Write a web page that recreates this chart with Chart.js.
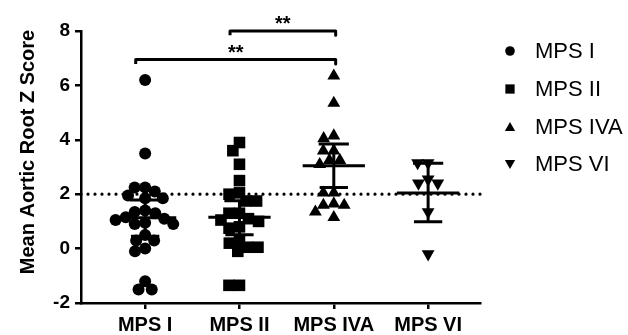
<!DOCTYPE html>
<html>
<head>
<meta charset="utf-8">
<script src="https://cdn.jsdelivr.net/npm/chart.js@4"></script>
<style>
  html, body { margin: 0; padding: 0; background: #fff; }
  #wrap { width: 628px; height: 335px; }
</style>
</head>
<body>
<div id="wrap"><canvas id="chart" width="628" height="335"></canvas></div>
<script>
// values
const groups = ['MPS I', 'MPS II', 'MPS IVA', 'MPS VI'];
const mps1 = [6.2, 3.5, 2.25, 2.25, 2.1, 1.95, 1.85, 1.85, 1.4, 1.35, 1.3, 1.15, 1.05, 0.95, 0.9, 0.9, 1.1, 0.5, 0.3, 0.3, 0.0, -0.1, -1.2, -1.5, -1.5];
const mps2 = [3.9, 3.6, 3.1, 2.5, 2.05, 2.0, 1.75, 1.75, 1.3, 1.3, 1.05, 1.0, 1.1, 0.75, 0.8, 0.2, 0.05, -0.1, 0.05, 0.3, -1.35, -1.35];
const mps4a = [6.35, 5.35, 4.15, 4.05, 3.6, 3.6, 3.25, 3.25, 3.1, 2.05, 2.05, 1.65, 1.6, 1.6, 1.35, 1.15];
const mps6 = [3.15, 3.15, 2.55, 2.4, 2.4, 1.35, -0.2];
const means = [1.13, 1.15, 3.05, 2.04];
const ciLow = [0.45, 0.51, 2.25, 0.99];
const ciHigh = [1.79, 1.76, 3.85, 3.14];
const yTicks = [-2, 0, 2, 4, 6, 8];
const refLine = 2;
const comparisons = [[1, 3], [2, 3]];   // group numbers
const compLevels = [6.95, 8.0];
const compLabels = ['**', '**'];

const FONT = '"Liberation Sans", Arial, sans-serif';
const PX_X = 94.3, PX_Y = 27.2;  // approx pixels per unit, used for dot spreading only

// spread the dots sideways so they don't pile up (simple beeswarm)
function swarm(values, g) {
  const d = 10.5;
  const placed = [];
  const out = new Array(values.length);
  const order = values.map((v, i) => i).sort((a, b) => values[b] - values[a]);
  for (const i of order) {
    const py = values[i] * PX_Y;
    const cands = [0];
    for (const p of placed) {
      const dy = py - p.y;
      if (Math.abs(dy) < d) {
        const dx = Math.sqrt(d * d - dy * dy);
        cands.push(p.x + dx, p.x - dx);
      }
    }
    cands.sort((a, b) => Math.abs(a) - Math.abs(b) || a - b);
    const x = cands.find(c => placed.every(p => (p.x - c) ** 2 + (p.y - py) ** 2 >= d * d - 0.01));
    placed.push({ x: x, y: py });
    out[i] = { x: g + x / PX_X, y: values[i] };
  }
  return out;
}

// mean line, CI whisker and caps as one broken line per group
function errorBars() {
  const pts = [];
  means.forEach((m, i) => {
    const g = i + 1;
    pts.push({ x: g - 0.33, y: m }, { x: g + 0.33, y: m }, { x: g, y: null });
    pts.push({ x: g, y: ciLow[i] }, { x: g, y: ciHigh[i] }, { x: g, y: null });
    pts.push({ x: g - 0.16, y: ciHigh[i] }, { x: g + 0.16, y: ciHigh[i] }, { x: g, y: null });
    pts.push({ x: g - 0.15, y: ciLow[i] }, { x: g + 0.15, y: ciLow[i] }, { x: g, y: null });
  });
  return pts;
}

function brackets() {
  const pts = [];
  comparisons.forEach(([a, b], i) => {
    const lv = compLevels[i];
    const l = a - 0.1, r = b + 0.02;
    pts.push({ x: l, y: lv - 0.16 }, { x: l, y: lv }, { x: r, y: lv }, { x: r, y: lv - 0.16 }, { x: r, y: null });
  });
  return pts;
}

const seriesStyle = [
  { data: mps1, style: 'circle', radius: 6, rotation: 0 },
  { data: mps2, style: 'rect', radius: 8.2, rotation: 0 },
  { data: mps4a, style: 'triangle', radius: 7.4, rotation: 0 },
  { data: mps6, style: 'triangle', radius: 7.4, rotation: 180 }
];

const datasets = seriesStyle.map((s, i) => ({
  type: 'scatter',
  label: groups[i],
  data: swarm(s.data, i + 1),
  pointStyle: s.style,
  pointRadius: s.radius,
  rotation: s.rotation,
  backgroundColor: '#000',
  borderColor: '#000',
  borderWidth: 0,
  order: 2,
  clip: false
}));

datasets.push({
  type: 'line', label: 'ci', data: errorBars(),
  borderColor: '#000', borderWidth: 3, pointRadius: 0, spanGaps: false,
  order: 0, clip: false
});
datasets.push({
  type: 'line', label: 'ref', data: [{ x: 0.32, y: refLine }, { x: 4.58, y: refLine }],
  borderColor: '#000', borderWidth: 3.2, borderDash: [0, 7], borderCapStyle: 'round',
  pointRadius: 0, order: 3, clip: false
});
datasets.push({
  type: 'line', label: 'sig', data: brackets(),
  borderColor: '#000', borderWidth: 3, borderJoinStyle: 'round', pointRadius: 0,
  spanGaps: false, order: 1, clip: false
});

const extras = {
  id: 'extras',
  afterDraw(chart) {
    const ctx = chart.ctx;
    const xs = chart.scales.x, ys = chart.scales.y;
    ctx.save();
    // y title
    ctx.fillStyle = '#000';
    ctx.font = 'bold 20px ' + FONT;
    ctx.textAlign = 'center';
    ctx.textBaseline = 'middle';
    ctx.translate(28, 152);
    ctx.rotate(-Math.PI / 2);
    ctx.fillText('Mean Aortic Root Z Score', 0, 0);
    ctx.restore();

    // significance stars
    ctx.save();
    ctx.fillStyle = '#000';
    ctx.font = 'bold 20px ' + FONT;
    ctx.textAlign = 'center';
    ctx.textBaseline = 'alphabetic';
    comparisons.forEach(([a, b], i) => {
      const l = a - 0.1, r = b + 0.02;
      ctx.fillText(compLabels[i], xs.getPixelForValue((l + r) / 2), ys.getPixelForValue(compLevels[i]) - 1);
    });
    ctx.restore();

    // legend
    ctx.save();
    ctx.font = '22px ' + FONT;
    ctx.textAlign = 'left';
    ctx.textBaseline = 'middle';
    const rows = [51, 89, 127, 164];
    seriesStyle.forEach((s, i) => {
      ctx.fillStyle = '#000';
      ctx.strokeStyle = '#000';
      ctx.lineWidth = 0;
      Chart.helpers.drawPoint(ctx, {
        pointStyle: s.style, radius: s.radius * 0.8, rotation: s.rotation, borderWidth: 0
      }, 510, rows[i] + (s.style === 'triangle' ? (s.rotation ? -1 : 1) : 0));
      ctx.fillStyle = '#000';
      ctx.fillText(groups[i], 535, rows[i] + 1);
    });
    ctx.restore();
  }
};

new Chart(document.getElementById('chart'), {
  data: { datasets: datasets },
  options: {
    responsive: false,
    animation: false,
    events: [],
    layout: { padding: { top: 31, right: 148, left: 0, bottom: 0 } },
    plugins: { legend: { display: false }, tooltip: { enabled: false } },
    scales: {
      x: {
        type: 'linear',
        min: 0.32,
        max: 4.55,
        afterBuildTicks(scale) { scale.ticks = groups.map((g, i) => ({ value: i + 1 })); },
        afterFit(scale) { scale.height = 32; },
        ticks: {
          color: '#000',
          font: { family: FONT, size: 20, weight: 'bold' },
          padding: 4,
          autoSkip: false,
          maxRotation: 0,
          callback: (v) => groups[v - 1]
        },
        grid: { drawOnChartArea: false, drawTicks: true, tickLength: 6, color: '#000', lineWidth: 2.5 },
        border: { display: true, color: '#000', width: 2.5 }
      },
      y: {
        type: 'linear',
        min: -2,
        max: 8,
        afterBuildTicks(scale) { scale.ticks = yTicks.map(v => ({ value: v })); },
        afterFit(scale) { scale.width = 81; },
        ticks: {
          color: '#000',
          font: { family: FONT, size: 19, weight: 'bold' },
          padding: 5
        },
        grid: { drawOnChartArea: false, drawTicks: true, tickLength: 6, color: '#000', lineWidth: 2.5 },
        border: { display: true, color: '#000', width: 2.5 }
      }
    }
  },
  plugins: [extras]
});
</script>
</body>
</html>
